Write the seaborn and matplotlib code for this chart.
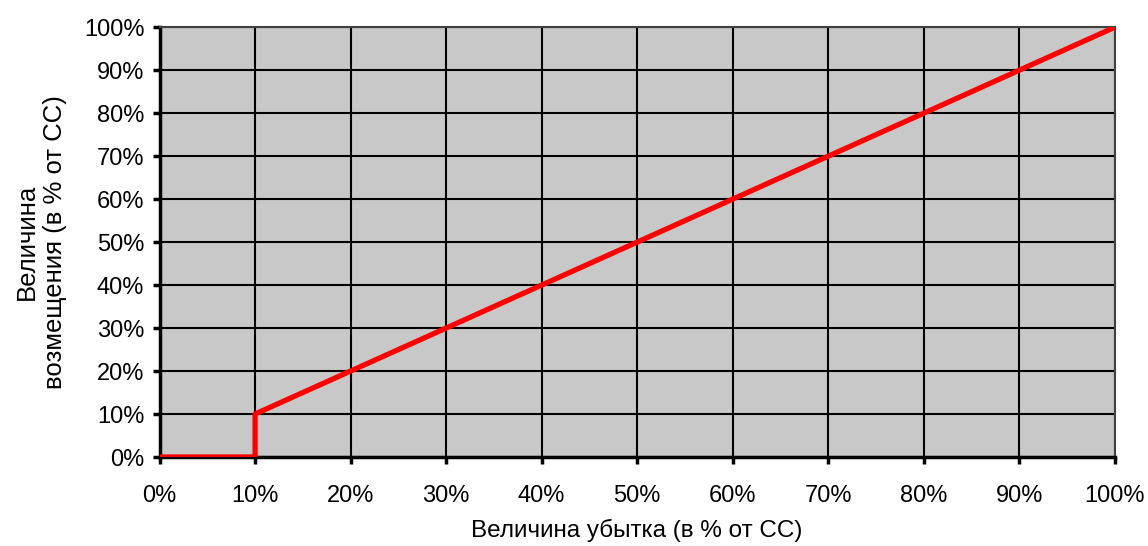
import matplotlib
matplotlib.use("Agg")
import matplotlib.pyplot as plt
import seaborn as sns
import pandas as pd
from matplotlib.ticker import PercentFormatter

# Data: compensation vs loss (% of insured sum)
loss = [0, 10, 10, 20, 30, 40, 50, 60, 70, 80, 90, 100]
compensation = [0, 0, 10, 20, 30, 40, 50, 60, 70, 80, 90, 100]
ticks = list(range(0, 101, 10))

df = pd.DataFrame({"loss": loss, "comp": compensation})

sns.set_style("ticks")
plt.rcParams["font.family"] = ["Liberation Sans", "DejaVu Sans"]

fig = plt.figure(figsize=(11.48, 5.46), dpi=100)
ax = fig.add_axes([0.139, 0.163, 0.832, 0.787])
ax.set_facecolor("#c8c8c8")

sns.lineplot(data=df, x="loss", y="comp", sort=False, estimator=None,
             color="#ff0000", linewidth=3.8, ax=ax, zorder=3,
             solid_capstyle="butt")

ax.set_xlim(0, 100)
ax.set_ylim(0, 100)
ax.set_xticks(ticks)
ax.set_yticks(ticks)
ax.xaxis.set_major_formatter(PercentFormatter(decimals=0))
ax.yaxis.set_major_formatter(PercentFormatter(decimals=0))
ax.grid(True, color="black", linewidth=1.5, zorder=1)
ax.set_axisbelow(True)

for side in ["left", "bottom"]:
    ax.spines[side].set_linewidth(2.5)
    ax.spines[side].set_color("black")
for side in ["top", "right"]:
    ax.spines[side].set_linewidth(1.5)
    ax.spines[side].set_color("#404040")

ax.tick_params(axis="both", direction="out", length=5, width=2.5,
               labelsize=17, colors="black")
ax.tick_params(axis="x", pad=15)
ax.tick_params(axis="y", pad=6)

ax.set_xlabel("Величина убытка (в % от СС)", fontsize=17.5, labelpad=9,
              color="black")
ax.set_ylabel("Величина\nвозмещения (в % от СС)", fontsize=18.5, labelpad=12,
              linespacing=1.25, color="black")

fig.savefig("out.png", dpi=100)
